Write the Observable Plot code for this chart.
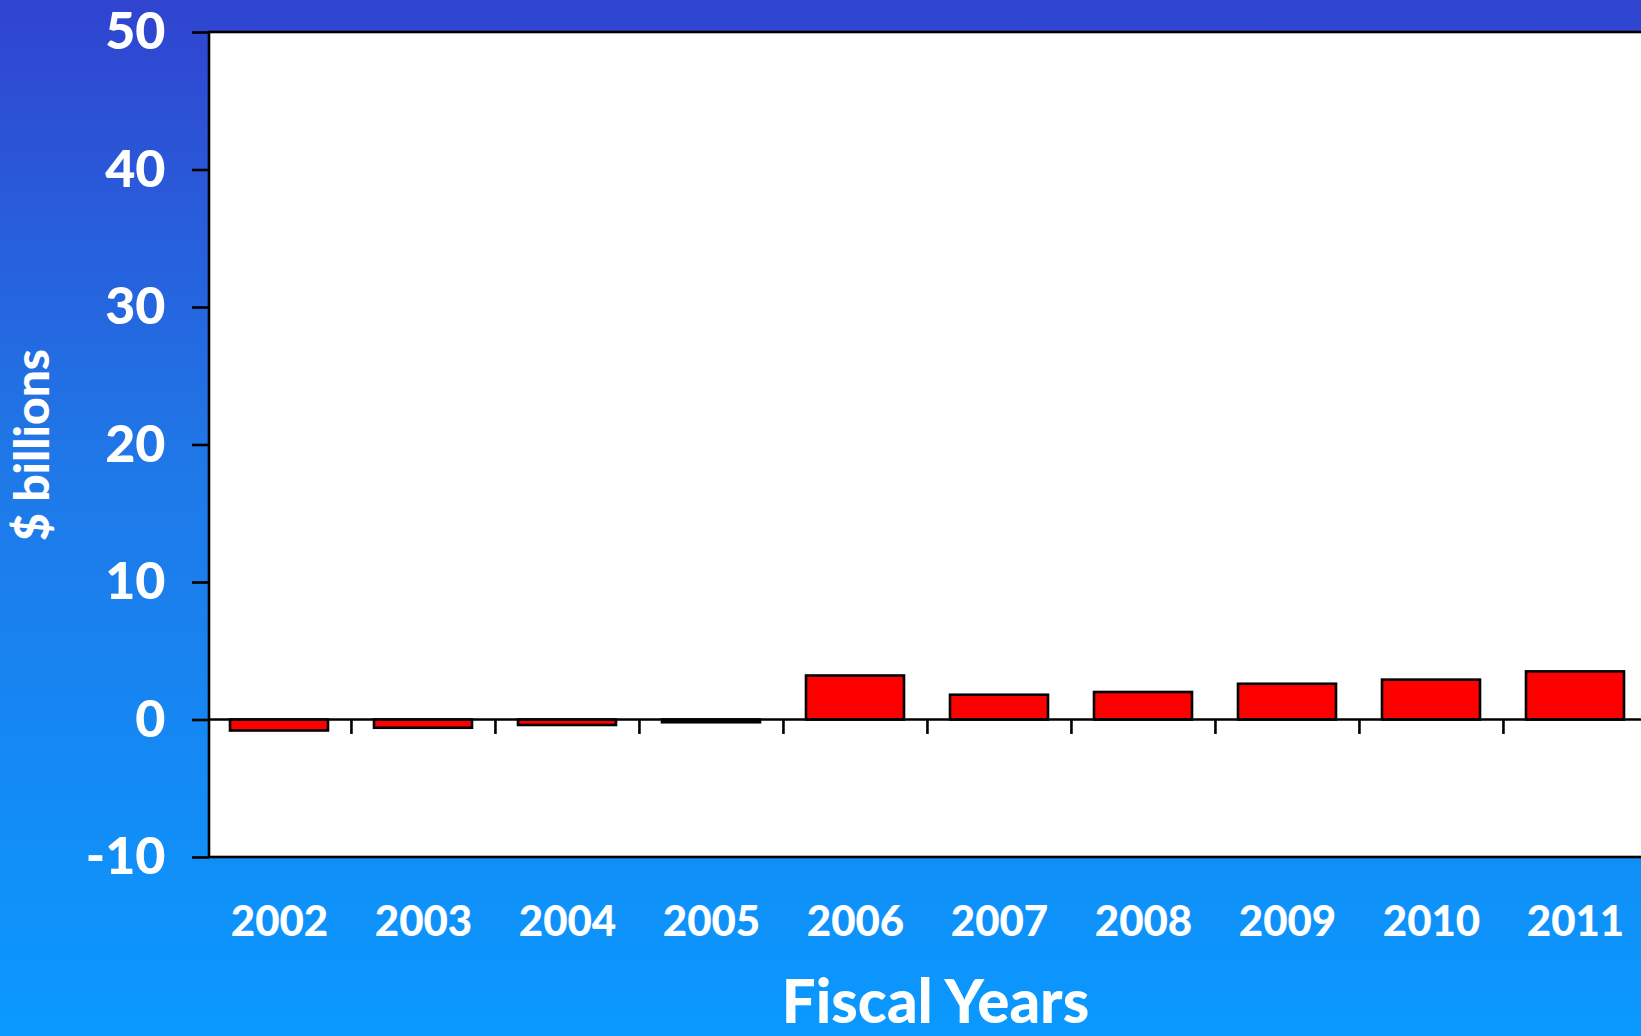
<!DOCTYPE html>
<html>
<head>
<meta charset="utf-8">
<script src="https://cdn.jsdelivr.net/npm/d3@7"></script>
<script src="https://cdn.jsdelivr.net/npm/@observablehq/plot@0.6"></script>
<style>
  html, body { margin: 0; padding: 0; background: #1a7fee; }
  #chart svg { display: block; }
</style>
</head>
<body>
<div id="chart"></div>
<script>
const years = ["2002", "2003", "2004", "2005", "2006", "2007", "2008", "2009", "2010", "2011"];
const values = [-0.8, -0.6, -0.4, -0.2, 3.2, 1.8, 2.0, 2.6, 2.9, 3.5];
const yTicks = [-10, 0, 10, 20, 30, 40, 50];
const yLabel = "$ billions";
const xLabel = "Fiscal Years";

const data = years.map((year, i) => ({year, value: values[i]}));

const W = 1641, H = 1036;
const xRange = [206, 1647];
const step = (xRange[1] - xRange[0]) / years.length;

const background = (index, scales, values, dims) => {
  const g = d3.create("svg:g");
  g.append("rect")
    .attr("x", dims.marginLeft)
    .attr("y", dims.marginTop)
    .attr("width", dims.width - dims.marginLeft + 10)
    .attr("height", dims.height - dims.marginTop - dims.marginBottom)
    .attr("fill", "white")
    .attr("stroke", "black")
    .attr("stroke-width", 2.6);
  return g.node();
};

const zeroLine = (index, scales, values, dims) => {
  const y0 = scales.y(0);
  const g = d3.create("svg:g");
  g.append("line")
    .attr("x1", dims.marginLeft).attr("x2", dims.width)
    .attr("y1", y0).attr("y2", y0)
    .attr("stroke", "black").attr("stroke-width", 2.6);
  return g.node();
};

const chart = Plot.plot({
  width: W,
  height: H,
  marginLeft: 209,
  marginRight: 0,
  marginTop: 32,
  marginBottom: 179,
  style: {
    background: "linear-gradient(to bottom, #3044cf 0%, #1f78e8 45%, #0a99ff 100%)",
    fontFamily: "Lato, 'Open Sans', sans-serif",
    overflow: "visible"
  },
  x: {domain: years, range: xRange, padding: 0, axis: null},
  y: {domain: [-10, 50], axis: null},
  marks: [
    background,
    Plot.barY(data, {
      x: "year", y: "value",
      fill: "#ff0000", stroke: "black", strokeWidth: 2.6,
      insetLeft: 23, insetRight: 23
    }),
    zeroLine,
    Plot.ruleX(years.slice(1), {
      x: d => d, y1: 0, y2: -1.05, dx: -step / 2,
      stroke: "black", strokeWidth: 2.6
    }),
    Plot.axisY({
      ticks: yTicks, tickSize: 17, tickPadding: 27,
      tickFormat: d => String(d),
      stroke: "black", strokeWidth: 2.6,
      fill: "white", fontSize: 52, fontWeight: 900,
      label: null
    }),
    Plot.axisX({
      tickSize: 0, tickPadding: 49,
      fill: "white", fontSize: 42, fontWeight: 900,
      label: null
    }),
    Plot.text([yLabel], {
      frameAnchor: "left", textAnchor: "middle", rotate: -90, dx: -176,
      fontSize: 48, fontWeight: 900, fill: "white"
    }),
    Plot.text([xLabel], {
      frameAnchor: "bottom", dx: 10, dy: 165,
      fontSize: 60, fontWeight: 900, fill: "white"
    })
  ]
});

document.getElementById("chart").appendChild(chart);
</script>
</body>
</html>
